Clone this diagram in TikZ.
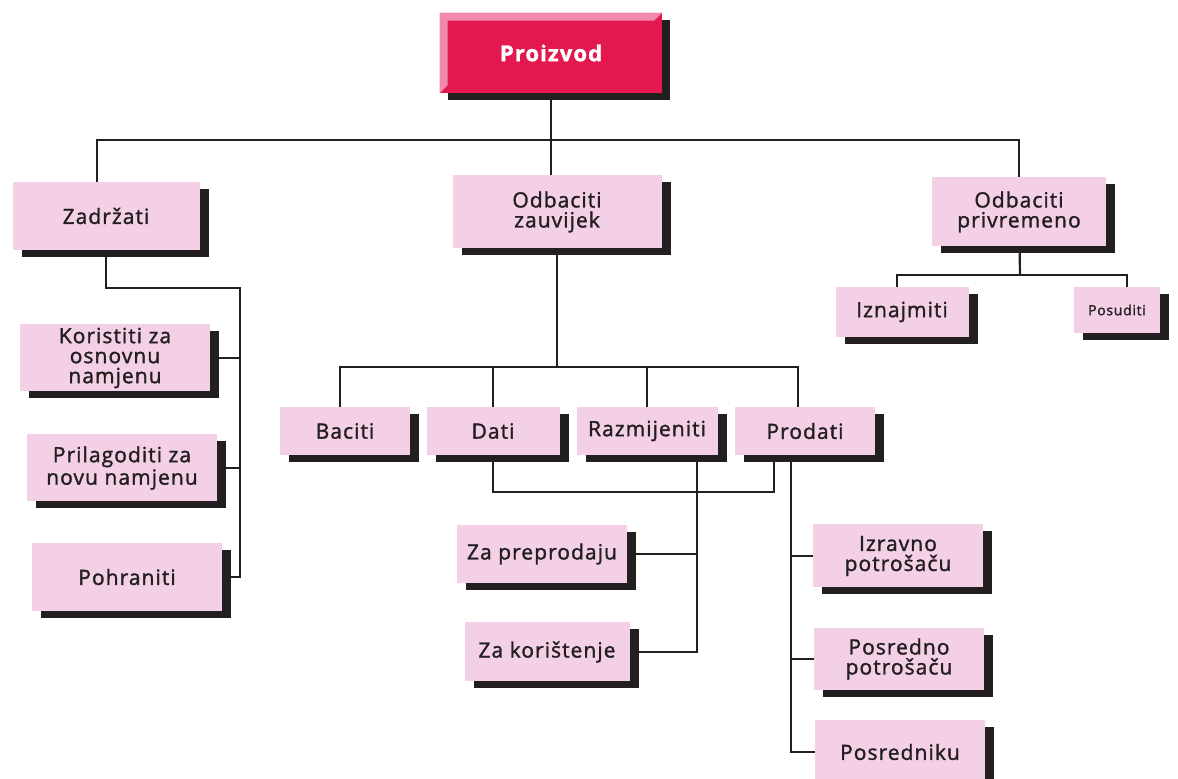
\documentclass[tikz,border=0pt]{standalone}
\usepackage{fontspec}
\setmainfont{Open Sans}[LetterSpace=5, FakeBold=1.5]
\usepackage{xcolor}
\definecolor{boxPink}{HTML}{F3D0E6}
\definecolor{rootRed}{HTML}{E3184E}
\definecolor{rootBevel}{HTML}{F28AAE}
\definecolor{inkDark}{HTML}{231F20}
\usetikzlibrary{shadows}

\tikzset{
  pinkbox/.style={fill=boxPink, text=inkDark, align=center, inner sep=0pt,
    font=\fontsize{10.5}{10}\selectfont,
    drop shadow={shadow xshift=4.5pt, shadow yshift=-3.5pt, fill=inkDark, opacity=1}},
  rootbox/.style={fill=rootRed, text=white, align=center, inner sep=0pt,
    font=\bfseries\fontsize{11}{12}\selectfont,
    drop shadow={shadow xshift=4pt, shadow yshift=-3.5pt, fill=inkDark, opacity=1}},
  link/.style={draw=inkDark, line width=1.1pt},
}

\begin{document}
\begin{tikzpicture}[x=0.5pt, y=-0.5pt]
  \useasboundingbox[fill=white] (0,0) rectangle (1178,779);
  % root
  \node[rootbox, minimum width=111pt, minimum height=40pt] (prod) at (551,53) {Proizvod};
  \fill[rootBevel] (prod.south west) -- (prod.north west) -- (prod.north east)
    -- ([shift={(-4pt,-4pt)}]prod.north east) -- ([shift={(4pt,-4pt)}]prod.north west)
    -- ([shift={(4pt,4pt)}]prod.south west) -- cycle;
  % second tier
  \node[pinkbox, minimum width=93.5pt, minimum height=34pt] (zad) at (106,216) {Zadržati};
  \node[pinkbox, minimum width=104.5pt, minimum height=36.5pt] (zauv) at (557,212) {Odbaciti\\zauvijek};
  \node[pinkbox, minimum width=87pt, minimum height=34.5pt] (priv) at (1019,212) {Odbaciti\\privremeno};
  % keep
  \node[pinkbox, minimum width=95pt, minimum height=33.5pt] (kor) at (115,358) {Koristiti za\\osnovnu\\namjenu};
  \node[pinkbox, minimum width=95pt, minimum height=33.5pt] (pril) at (122,468) {Prilagoditi za\\novu namjenu};
  \node[pinkbox, minimum width=95pt, minimum height=34pt] (pohr) at (127,577) {Pohraniti};
  % discard for good
  \node[pinkbox, minimum width=65pt, minimum height=24pt] (bac) at (345,431) {Baciti};
  \node[pinkbox, minimum width=66.5pt, minimum height=24pt] (dati) at (493,431) {Dati};
  \node[pinkbox, minimum width=70.5pt, minimum height=24pt] (razm) at (647,431) {Razmijeniti};
  \node[pinkbox, minimum width=70pt, minimum height=24pt] (prodati) at (805,431) {Prodati};
  \node[pinkbox, minimum width=85pt, minimum height=29pt] (zapre) at (542,554) {Za preprodaju};
  \node[pinkbox, minimum width=82.5pt, minimum height=29.5pt] (zakor) at (547,652) {Za korištenje};
  \node[pinkbox, minimum width=85pt, minimum height=31.5pt] (izr) at (898,556) {Izravno\\potrošaču};
  \node[pinkbox, minimum width=85pt, minimum height=31pt] (posr) at (899,659) {Posredno\\potrošaču};
  \node[pinkbox, minimum width=85pt, minimum height=32pt] (posrk) at (900,752) {Posredniku};
  % discard for a while
  \node[pinkbox, minimum width=66.5pt, minimum height=25pt] (izn) at (902,312) {Iznajmiti};
  \node[pinkbox, minimum width=43pt, minimum height=23pt, font=\fontsize{7}{8}\selectfont] (posud) at (1117,310) {Posuditi};

  \coordinate (bar) at (551,140);
  \coordinate (zadR) at (240,288);
  \coordinate (zauvB) at (557,367);
  \coordinate (dp) at ([xshift=-15.5pt]prodati.south);
  \coordinate (rz) at ([xshift=25pt]razm.south);
  \coordinate (pv) at ([xshift=-7pt]prodati.south);
  \coordinate (pb) at (1020,275);

  \draw[link] (prod.south) -- (prod.south |- zauv.north);
  \draw[link] ([xshift=-4.5pt]zad.north) |- (bar) -| (priv.north);
  \draw[link] (zad.south) |- (zadR) |- (pohr.east);
  \draw[link] (kor.east) -- (kor.east -| zadR);
  \draw[link] (pril.east) -- (pril.east -| zadR);
  \draw[link] (zauv) -- (zauvB);
  \draw[link] ([xshift=-2.5pt]bac.north) |- (zauvB) -| ([xshift=-3.5pt]prodati.north);
  \draw[link] (dati.north) -- (dati.north |- zauvB);
  \draw[link] (razm.north) -- (razm.north |- zauvB);
  \draw[link] (dati.south) -- ++(0,37) -| (dp);
  \draw[link] (rz) |- (zakor.east);
  \draw[link] (zapre.east) -- (zapre.east -| rz);
  \draw[link] (pv) |- (posrk.west);
  \draw[link] (izr.west) -- (izr.west -| pv);
  \draw[link] (posr.west) -- (posr.west -| pv);
  \draw[link] (priv) -- (pb);
  \draw[link] ([xshift=-2.5pt]izn.north) |- (pb) -| ([xshift=5pt]posud.north);
\end{tikzpicture}
\end{document}
